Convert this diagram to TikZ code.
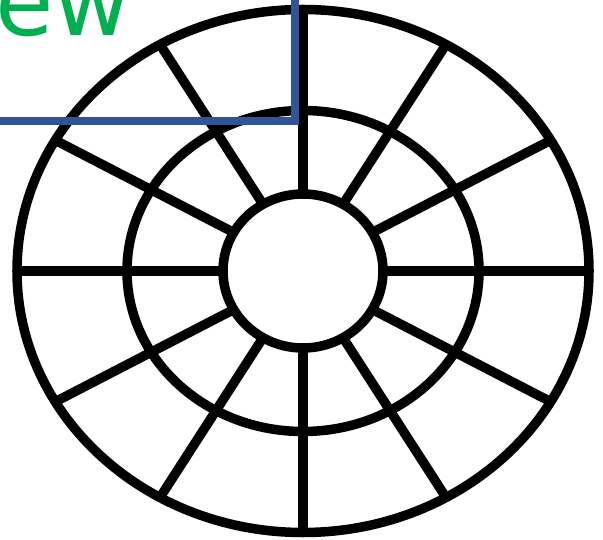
\documentclass[tikz,border=0pt]{standalone}
\usepackage{fontspec}
\setmainfont{DejaVu Sans}
\usetikzlibrary{positioning}
\definecolor{viewgreen}{HTML}{00B050}
\definecolor{cutblue}{HTML}{2F5597}

\begin{document}
\begin{tikzpicture}[
    x=0.5pt, y=0.5pt,
    rim/.style={draw=black, line width=4.75pt},
    spoke/.style={draw=black, line width=4.75pt},
    cutline/.style={draw=cutblue, line width=4pt, miter limit=10},
    viewlabel/.style={anchor=base west, inner sep=0pt, text=viewgreen, font=\fontsize{47.5}{57}\selectfont}
]
\useasboundingbox (-303,-268) rectangle (300,271);
% rings
\draw[rim] (0,0) ellipse [x radius=286, y radius=261.5];
\draw[rim] (0,0) ellipse [x radius=176, y radius=160.5];
\draw[rim] (0,0) ellipse [x radius=80, y radius=77];
% spokes
\foreach \a in {0,30,...,330}
    \draw[spoke] (\a:80 and 77) -- (\a:286 and 261.5);
% label and section line
\node[viewlabel] (view) at (-308,235.3) {ew};
\coordinate (cutL) at (-310,150);
\coordinate (cutC) at (-8.5,150);
\coordinate (cutT) at (-8.5,280);
\draw[cutline] (cutL) -- (cutC) -- (cutT);
\end{tikzpicture}
\end{document}
